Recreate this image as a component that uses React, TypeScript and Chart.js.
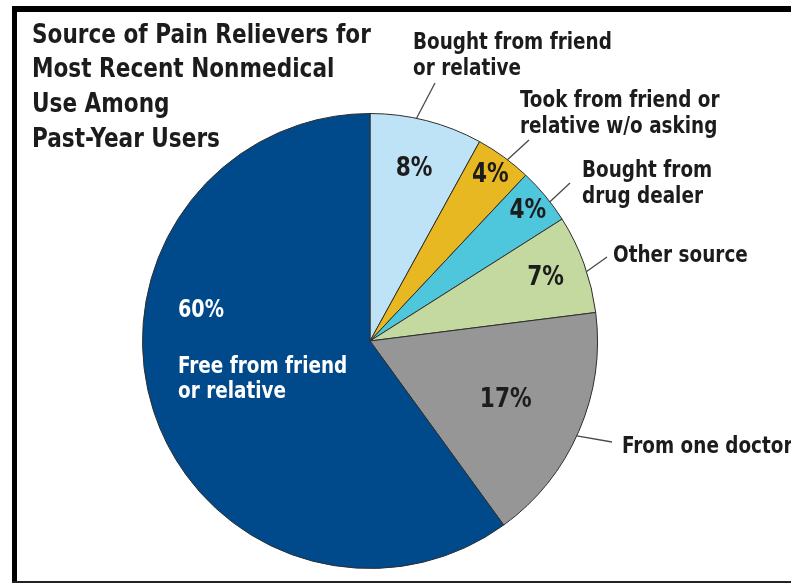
import React, { useEffect, useRef } from "react";
import { Chart, registerables } from "chart.js";

Chart.register(...registerables);

// ---------- DATA ----------
const categories = [
  "Bought from friend or relative",
  "Took from friend or relative w/o asking",
  "Bought from drug dealer",
  "Other source",
  "From one doctor",
  "Free from friend or relative",
];
const values = [8, 4, 4, 7, 17, 60];
const percentLabels = ["8%", "4%", "4%", "7%", "17%", "60%"];
const outsideLabelLines = [
  ["Bought from friend", "or relative"],
  ["Took from friend or", "relative w/o asking"],
  ["Bought from", "drug dealer"],
  ["Other source"],
  ["From one doctor"],
  ["Free from friend", "or relative"],
];
const titleLines = [
  "Source of Pain Relievers for",
  "Most Recent Nonmedical",
  "Use Among",
  "Past-Year Users",
];

// ---------- STYLE / LAYOUT ----------
const sliceColors = ["#bfe3f6", "#e8b822", "#4ec6dc", "#c3d9a0", "#969696", "#004a8c"];
const FONT = '"Liberation Sans Narrow", "DejaVu Sans Condensed", "Arial Narrow", sans-serif';
const TEXT = "#1c1c1c";
const SX = 0.89; // horizontal condensing of text

// percent label placement: radial fraction of radius (at slice mid-angle)
const pctRadial = [0.78, 0.9, 0.9, 0.82, 0.65, 0];
// leader lines: fraction along slice angle, end point, text anchor (left x, first baseline)
const leaders = [
  { frac: 0.41, end: [435, 83], text: [413, 49] },
  { frac: 0.58, end: [529, 140], text: [520, 107] },
  { frac: 0.63, end: [570, 183], text: [582, 177] },
  { frac: 0.58, end: [607, 257], text: [613, 262] },
  { frac: 0.52, end: [612, 442], text: [622, 453] },
];

function drawText(ctx: CanvasRenderingContext2D, t: string, x: number, y: number) {
  ctx.save();
  ctx.translate(x, y);
  ctx.scale(SX, 1);
  ctx.fillText(t, 0, 0);
  ctx.restore();
}

const labelPlugin = {
  id: "customLabels",
  afterDraw(chart: any) {
    const ctx = chart.ctx as CanvasRenderingContext2D;
    const meta = chart.getDatasetMeta(0);
    ctx.save();

    // frame
    ctx.fillStyle = "#000";
    ctx.fillRect(12, 6, 779, 6);
    ctx.fillRect(12, 6, 5, 577);
    ctx.fillStyle = "#222";
    ctx.fillRect(12, 581, 779, 2);

    // title
    ctx.fillStyle = TEXT;
    ctx.font = `bold 27px ${FONT}`;
    ctx.textAlign = "left";
    ctx.textBaseline = "alphabetic";
    const titleBase = [43, 77, 112, 147];
    titleLines.forEach((t, i) => drawText(ctx, t, 32, titleBase[i]));

    // percent labels inside slices
    meta.data.forEach((arc: any, i: number) => {
      if (i === 5) return;
      const { x, y, startAngle, endAngle, outerRadius } = arc.getProps(
        ["x", "y", "startAngle", "endAngle", "outerRadius"],
        true
      );
      const mid = (startAngle + endAngle) / 2;
      const r = outerRadius * pctRadial[i];
      ctx.fillStyle = TEXT;
      ctx.font = `bold 27px ${FONT}`;
      ctx.textAlign = "center";
      ctx.textBaseline = "middle";
      drawText(ctx, percentLabels[i], x + Math.cos(mid) * r, y + Math.sin(mid) * r);
    });

    // leader lines + outside labels
    ctx.textAlign = "left";
    ctx.textBaseline = "alphabetic";
    leaders.forEach((ld, i) => {
      const arc: any = meta.data[i];
      const { x, y, startAngle, endAngle, outerRadius } = arc.getProps(
        ["x", "y", "startAngle", "endAngle", "outerRadius"],
        true
      );
      const a = startAngle + (endAngle - startAngle) * ld.frac;
      ctx.strokeStyle = "#4a4a4a";
      ctx.lineWidth = 1.3;
      ctx.beginPath();
      ctx.moveTo(x + Math.cos(a) * outerRadius, y + Math.sin(a) * outerRadius);
      ctx.lineTo(ld.end[0], ld.end[1]);
      ctx.stroke();
      ctx.fillStyle = TEXT;
      ctx.font = `bold 23px ${FONT}`;
      outsideLabelLines[i].forEach((line, j) => {
        drawText(ctx, line, ld.text[0], ld.text[1] + j * 26);
      });
    });

    // white labels in the big slice
    ctx.fillStyle = "#ffffff";
    ctx.font = `bold 24px ${FONT}`;
    drawText(ctx, percentLabels[5], 178, 317);
    ctx.font = `bold 23px ${FONT}`;
    outsideLabelLines[5].forEach((line, j) => drawText(ctx, line, 178, 373 + j * 25));

    ctx.restore();
  },
};

export default function App() {
  const ref = useRef<HTMLCanvasElement | null>(null);
  useEffect(() => {
    if (!ref.current) return;
    const chart = new Chart(ref.current, {
      type: "pie",
      data: {
        labels: categories,
        datasets: [
          {
            data: values,
            backgroundColor: sliceColors,
            borderColor: "#2e2e2e",
            borderWidth: 1,
          },
        ],
      },
      options: {
        responsive: false,
        animation: false,
        layout: { padding: { top: 113, bottom: 16, left: 142, right: 193 } },
        plugins: {
          legend: { display: false },
          title: { display: false },
          tooltip: { enabled: false },
        },
      },
      plugins: [labelPlugin],
    });
    return () => chart.destroy();
  }, []);
  return (
    <div style={{ position: "fixed", left: 0, top: 0, width: 791, height: 585, background: "#fff" }}>
      <canvas ref={ref} width={791} height={585} style={{ width: 791, height: 585 }} />
    </div>
  );
}
